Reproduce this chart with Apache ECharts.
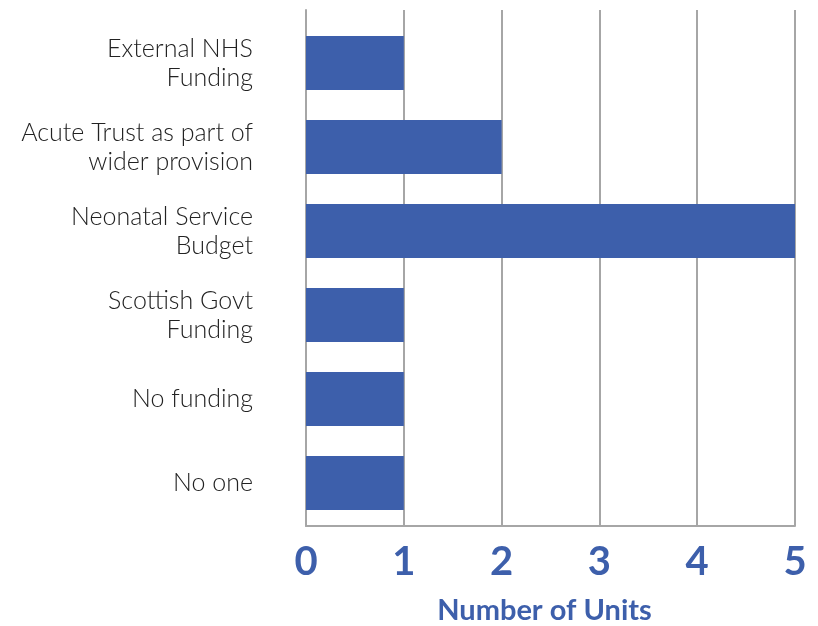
<!DOCTYPE html>
<html>
<head>
<meta charset="utf-8">
<script src="https://cdn.jsdelivr.net/npm/echarts@6/dist/echarts.min.js"></script>
<style>
  html, body { margin: 0; padding: 0; background: #ffffff; }
  #chart { width: 818px; height: 626px; }
</style>
</head>
<body>
<div id="chart"></div>
<script>
// Funding sources, listed top to bottom
const categories = [
  'External NHS\nFunding',
  'Acute Trust as part of\nwider provision',
  'Neonatal Service\nBudget',
  'Scottish Govt\nFunding',
  'No funding',
  'No one'
];
const units = [1, 2, 5, 1, 1, 1];
const xTicks = [0, 1, 2, 3, 4, 5];

const BLUE = '#3d5fab';
const GRID_GREY = '#a6a6a6';

const chart = echarts.init(document.getElementById('chart'), null, { renderer: 'canvas' });

chart.setOption({
  backgroundColor: '#ffffff',
  animation: false,
  grid: [
    // bars + category labels
    { left: 306, right: 23, top: 21, bottom: 101, containLabel: false, outerBoundsMode: 'none' },
    // frame: vertical gridlines, value ticks and axis title
    { left: 306, right: 23, top: 10, bottom: 100, containLabel: false, outerBoundsMode: 'none' }
  ],
  xAxis: [
    {
      gridIndex: 0, type: 'value', min: 0, max: 5, interval: 1,
      axisLine: { show: false }, axisTick: { show: false },
      axisLabel: { show: false }, splitLine: { show: false }
    },
    {
      gridIndex: 1, type: 'value', min: xTicks[0], max: xTicks[xTicks.length - 1], interval: 1,
      axisLine: { show: true, lineStyle: { color: GRID_GREY, width: 2 } },
      axisTick: { show: false },
      splitLine: { show: true, lineStyle: { color: GRID_GREY, width: 2 } },
      axisLabel: {
        color: BLUE, fontFamily: 'Lato', fontWeight: 'bold', fontSize: 40, margin: 16
      },
      name: 'Number of Units',
      nameLocation: 'middle',
      nameGap: 70,
      nameTextStyle: {
        color: BLUE, fontFamily: 'Lato', fontWeight: 'bold', fontSize: 29,
        padding: [0, 12, 0, 0]
      }
    }
  ],
  yAxis: [
    {
      gridIndex: 0, type: 'category', data: categories, inverse: true,
      axisLine: { show: false }, axisTick: { show: false },
      splitLine: { show: false },
      axisLabel: {
        color: '#222222', fontFamily: 'Lato', fontWeight: 300, fontSize: 25,
        lineHeight: 29, margin: 53, align: 'right'
      }
    },
    {
      gridIndex: 1, type: 'value', min: 0, max: 1,
      axisLine: { show: true, lineStyle: { color: GRID_GREY, width: 2 } },
      axisTick: { show: false }, axisLabel: { show: false },
      splitLine: { show: false }
    }
  ],
  series: [
    {
      type: 'bar',
      xAxisIndex: 0, yAxisIndex: 0,
      data: units,
      barCategoryGap: '36%',
      itemStyle: { color: BLUE },
      z: 3
    }
  ]
});
</script>
</body>
</html>
